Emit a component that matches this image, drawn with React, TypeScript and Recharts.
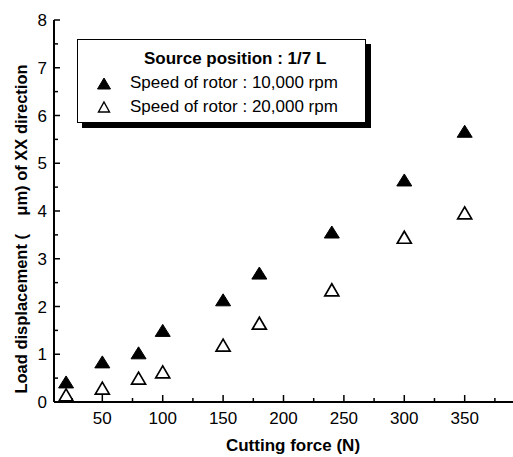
import React from 'react'
import {
  ScatterChart,
  Scatter,
  XAxis,
  YAxis,
  Label,
} from 'recharts'

const forces = [20, 50, 80, 100, 150, 180, 240, 300, 350]
const disp10k = [0.42, 0.84, 1.03, 1.5, 2.14, 2.7, 3.56, 4.65, 5.67]
const disp20k = [0.15, 0.29, 0.5, 0.63, 1.19, 1.65, 2.35, 3.45, 3.96]
const xTicks = [25, 50, 75, 100, 125, 150, 175, 200, 225, 250, 275, 300, 325, 350, 375]
const yTicks = [0, 0.5, 1, 1.5, 2, 2.5, 3, 3.5, 4, 4.5, 5, 5.5, 6, 6.5, 7, 7.5, 8]

const data10k = forces.map((f, i) => ({ force: f, disp: disp10k[i] }))
const data20k = forces.map((f, i) => ({ force: f, disp: disp20k[i] }))

const FONT = '"Liberation Sans", Arial, sans-serif'

const triangle = (filled: boolean) => (props: any) => {
  const { cx, cy } = props
  const w = filled ? 7.5 : 7
  const h = 12
  return (
    <polygon
      points={`${cx},${cy - h / 2} ${cx + w},${cy + h / 2} ${cx - w},${cy + h / 2}`}
      fill={filled ? '#000' : '#fff'}
      stroke="#000"
      strokeWidth={filled ? 1 : 1.7}
      strokeLinejoin="miter"
    />
  )
}

const YTick = ({ x, y, payload }: any) => {
  const major = Number.isInteger(payload.value)
  return (
    <g>
      <line x1={x} y1={y} x2={x + (major ? 6 : 4)} y2={y} stroke="#000" strokeWidth={1.5} />
      {major && (
        <text x={x - 7} y={y + 6} textAnchor="end" fontSize={17} fontFamily={FONT} fill="#000">
          {payload.value}
        </text>
      )}
    </g>
  )
}

const XTick = ({ x, y, payload }: any) => {
  const major = payload.value % 50 === 0
  return (
    <g>
      <line x1={x} y1={y} x2={x} y2={y - (major ? 7 : 4)} stroke="#000" strokeWidth={1.5} />
      {major && (
        <text x={x} y={y + 22} textAnchor="middle" fontSize={17} fontFamily={FONT} fill="#000">
          {payload.value}
        </text>
      )}
    </g>
  )
}

const LegendBox = () => (
  <div style={{ position: 'absolute', left: 77, top: 39, width: 294, height: 89 }}>
    <div
      style={{
        position: 'absolute', left: 5, top: 5, width: 289, height: 84, background: '#000',
      }}
    />
    <div
      style={{
        position: 'absolute', left: 0, top: 0, width: 287, height: 82, background: '#fff',
        border: '1px solid #000', fontFamily: FONT, color: '#000',
      }}
    >
      <div style={{ position: 'absolute', top: 9, left: 66, fontWeight: 'bold', fontSize: 17, whiteSpace: 'nowrap' }}>
        Source position : 1/7 L
      </div>
      <svg style={{ position: 'absolute', left: 18, top: 36 }} width={16} height={40}>
        <polygon points="8,2 14.5,13 1.5,13" fill="#000" stroke="#000" />
        <polygon points="8,26 13.5,36 2.5,36" fill="#fff" stroke="#000" strokeWidth={1.4} />
      </svg>
      <div style={{ position: 'absolute', left: 52, top: 33, fontSize: 17, whiteSpace: 'nowrap' }}>Speed of rotor : 10,000 rpm</div>
      <div style={{ position: 'absolute', left: 52, top: 57, fontSize: 17, whiteSpace: 'nowrap' }}>Speed of rotor : 20,000 rpm</div>
    </div>
  </div>
)

export default function App() {
  return (
    <div style={{ position: 'absolute', left: 0, top: 0, width: 513, height: 457, background: '#fff' }}>
      <ScatterChart width={513} height={457} margin={{ top: 20, right: 0, bottom: 0, left: 0 }}>
        <XAxis
          type="number"
          dataKey="force"
          domain={[10, 390]}
          ticks={xTicks}
          interval={0}
          height={55}
          tickSize={0}
          tickMargin={0}
          tickLine={false}
          tick={<XTick />}
          axisLine={{ stroke: '#000', strokeWidth: 2 }}
          allowDataOverflow
        >
          <Label
            content={({ viewBox }: any) => (
              <text
                x={293}
                y={viewBox.y + 49}
                textAnchor="middle"
                fontSize={17}
                fontWeight="bold"
                fontFamily={FONT}
              >
                Cutting force (N)
              </text>
            )}
          />
        </XAxis>
        <YAxis
          type="number"
          dataKey="disp"
          domain={[0, 8]}
          ticks={yTicks}
          interval={0}
          width={54}
          tickSize={0}
          tickMargin={0}
          tickLine={false}
          tick={<YTick />}
          axisLine={{ stroke: '#000', strokeWidth: 2 }}
        >
          <Label
            content={() => {
              const cy = 229
              return (
                <text
                  x={21}
                  y={cy}
                  transform={`rotate(-90, 21, ${cy})`}
                  textAnchor="middle"
                  dominantBaseline="central"
                  fontSize={16.5}
                  fontWeight="bold"
                  fontFamily={FONT}
                  style={{ whiteSpace: 'pre' }}
                >
                  {'Load displacement (\u00a0\u00a0\u00a0\u00a0μm) of XX direction'}
                </text>
              )
            }}
          />
        </YAxis>
        <Scatter name="10,000 rpm" data={data10k} shape={triangle(true)} isAnimationActive={false} />
        <Scatter name="20,000 rpm" data={data20k} shape={triangle(false)} isAnimationActive={false} />
      </ScatterChart>
      <LegendBox />
    </div>
  )
}
